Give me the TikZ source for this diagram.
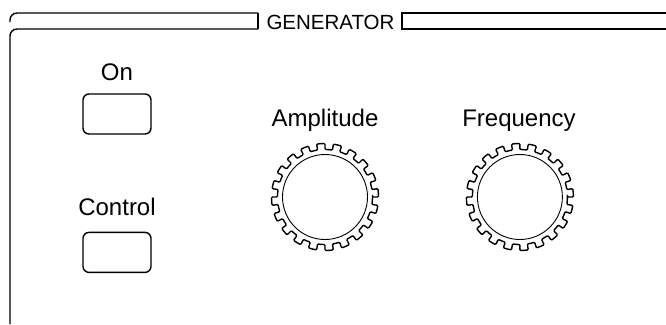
\documentclass[tikz,border=0pt]{standalone}
\usepackage{fontspec}
\setmainfont{Liberation Sans}
\usetikzlibrary{positioning}
\tikzset{
    x=1pt, y=-1pt, % one unit is one pixel of the panel, y runs down
    frame/.style={line width=1.4pt, rounded corners=7pt},
    button/.style={draw, line width=1.4pt, rounded corners=6pt, minimum width=68pt, minimum height=40pt},
    tag/.style={font=\fontsize{24}{28}\selectfont, anchor=base, inner sep=0pt},
    knob/.style={draw, circle, line width=0.9pt, minimum size=85pt, inner sep=0pt},
    teeth/.style={line width=1.4pt, rounded corners=1pt},
    gear/.pic={
        \draw[teeth] (0:47.5) \foreach \a in {0,18,...,342}{
            arc[start angle=\a, end angle=\a+9, radius=47.5] -- (\a+9:53.5)
            arc[start angle=\a+9, end angle=\a+18, radius=53.5] -- (\a+18:47.5)} -- cycle;
    },
}

\begin{document}
\begin{tikzpicture}
    \useasboundingbox (0,0) rectangle (666,324);

    % panel frame with the title band
    \node[tag, font=\fontsize{20.5}{24}\selectfont] (title) at (330.5,29) {GENERATOR};
    \coordinate (bandl) at (258,13);
    \coordinate (bandr) at (402,13);
    \draw[frame] (10,22) |- (bandl);
    \draw[frame] (10,324) |- (258,29);
    \draw[line width=1.4pt] (bandl) -- (258,29);
    \draw[line width=1.4pt] (666,13) -- (bandr) -- (402,29) -- (666,29);

    % buttons
    \node[button] (onbtn) at (117,114) {};
    \node[button, below=97pt of onbtn] (ctrlbtn) {};
    \node[tag] (ontxt) at (117,80) {On};
    \node[tag] (ctrltxt) at (117,215) {Control};

    % knobs
    \node[knob] (amp) at (325,197) {};
    \node[knob, right=109pt of amp] (freq) {};
    \pic at (amp) {gear};
    \pic at (freq) {gear};
    \node[tag] (amptxt) at (325,126) {Amplitude};
    \node[tag] (freqtxt) at (519,126) {Frequency};
\end{tikzpicture}
\end{document}
